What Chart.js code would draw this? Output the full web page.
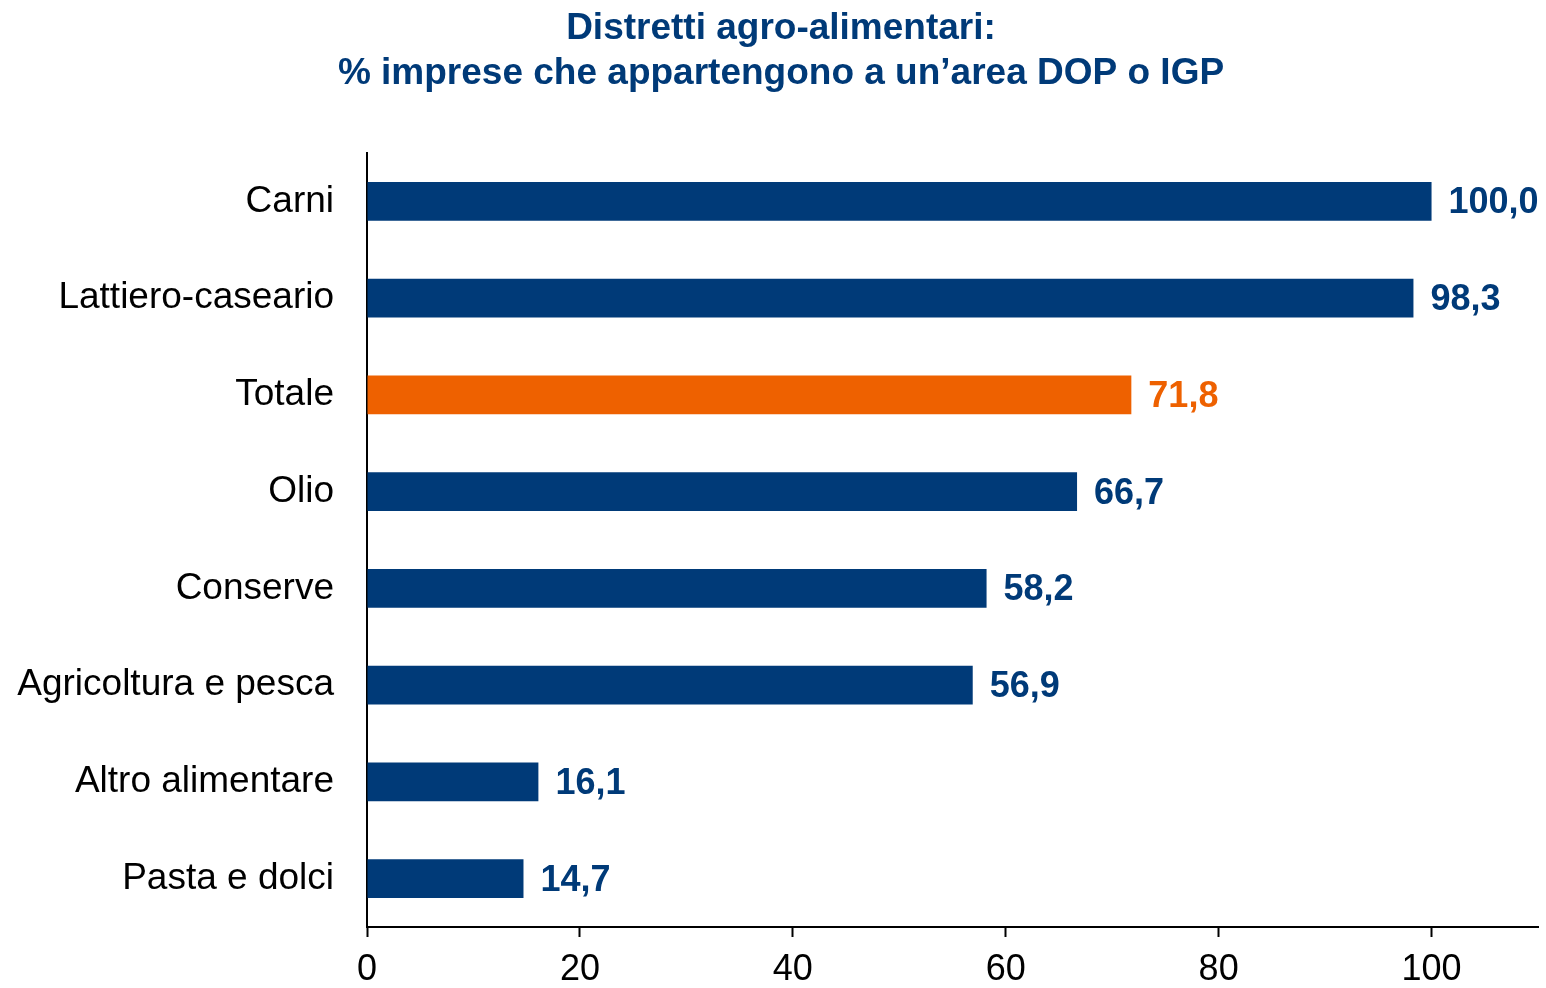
<!DOCTYPE html>
<html>
<head>
<meta charset="utf-8">
<script src="https://cdn.jsdelivr.net/npm/chart.js@4"></script>
<style>
  html, body { margin: 0; padding: 0; background: #fff; }
  #wrap { width: 1546px; height: 988px; }
</style>
</head>
<body>
<div id="wrap"><canvas id="chart"></canvas></div>
<script>
const categories = ["Carni", "Lattiero-caseario", "Totale", "Olio", "Conserve", "Agricoltura e pesca", "Altro alimentare", "Pasta e dolci"];
const values = [100.0, 98.3, 71.8, 66.7, 58.2, 56.9, 16.1, 14.7];
const titleLines = ["Distretti agro-alimentari:", "% imprese che appartengono a un\u2019area DOP o IGP"];

const navy = '#003A78';
const orange = '#EE6100';
const barColors = categories.map(c => c === "Totale" ? orange : navy);
const fontFam = '"Liberation Sans", Arial, sans-serif';

// titolo su due righe, centrato come nell'originale
const titlePlugin = {
    id: 'titlePlugin',
    afterDraw(chart) {
        const ctx = chart.ctx;
        ctx.save();
        ctx.font = 'bold 37px ' + fontFam;
        ctx.fillStyle = navy;
        ctx.textAlign = 'center';
        ctx.textBaseline = 'middle';
        titleLines.forEach((line, i) => ctx.fillText(line, 781, 29 + i * 45));
        ctx.restore();
    }
};

// etichette dei valori a destra delle barre
const valueLabels = {
    id: 'valueLabels',
    afterDatasetsDraw(chart) {
        const ctx = chart.ctx;
        const meta = chart.getDatasetMeta(0);
        ctx.save();
        ctx.font = 'bold 36px ' + fontFam;
        ctx.textBaseline = 'middle';
        ctx.textAlign = 'left';
        meta.data.forEach((bar, i) => {
            ctx.fillStyle = barColors[i];
            ctx.fillText(values[i].toFixed(1).replace('.', ','), bar.x + 17, bar.y + 2);
        });
        ctx.restore();
    }
};

new Chart('chart', {
    type: 'bar',
    data: {
        labels: categories,
        datasets: [{
            data: values,
            backgroundColor: barColors,
            barPercentage: 0.8,
            categoryPercentage: 0.5
        }]
    },
    options: {
        indexAxis: 'y',
        responsive: true,
        maintainAspectRatio: false,
        animation: false,
        layout: { padding: { left: 8, right: 8, top: 153, bottom: 0 } },
        plugins: {
            legend: { display: false },
            tooltip: { enabled: false },
            title: { display: false }
        },
        scales: {
            x: {
                min: 0,
                max: 110,
                afterFit(scale) { scale.height = 61; },
                ticks: {
                    stepSize: 20,
                    includeBounds: false,
                    color: '#000',
                    padding: 15,
                    font: { family: fontFam, size: 36, lineHeight: 1.0 }
                },
                grid: { drawOnChartArea: false, drawTicks: true, tickLength: 10, color: '#000', tickWidth: 2 },
                border: { color: '#000', width: 2 }
            },
            y: {
                afterFit(scale) { scale.width = 359; },
                ticks: {
                    color: '#000',
                    padding: 33,
                    font: { family: fontFam, size: 37 }
                },
                grid: { display: false, drawTicks: false },
                border: { color: '#000', width: 2 }
            }
        }
    },
    plugins: [valueLabels, titlePlugin]
});
</script>
</body>
</html>
